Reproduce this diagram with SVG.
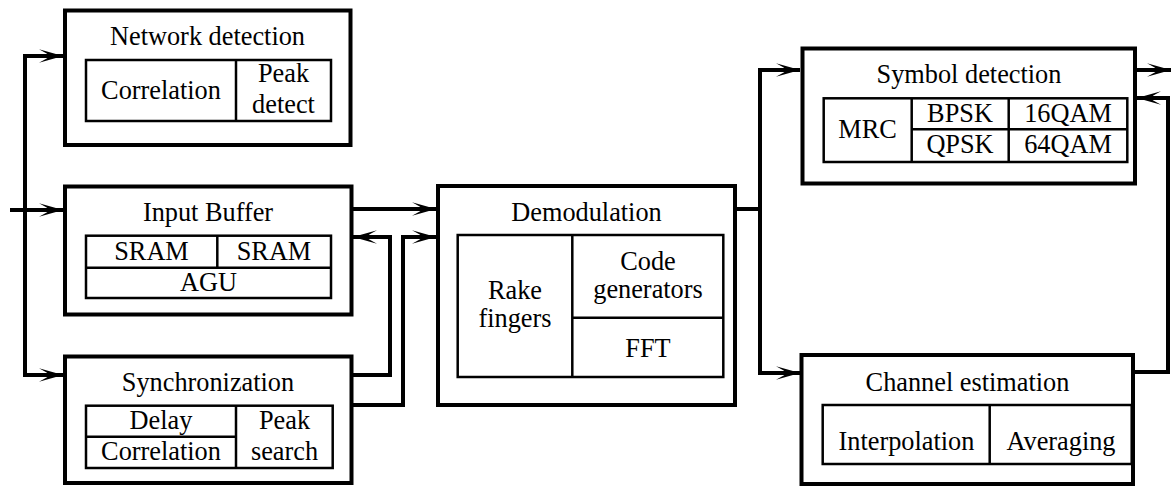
<svg xmlns="http://www.w3.org/2000/svg" width="1171" height="486" viewBox="0 0 1171 486">
<style>
.box{fill:#fff;stroke:#000;stroke-width:4}
.cell{fill:none;stroke:#000;stroke-width:2.5}
.ln{fill:none;stroke:#000;stroke-width:4;stroke-linejoin:miter}
.arr{marker-end:url(#ah)}
text{font-family:"Liberation Serif","Times New Roman",serif;font-size:26.3px;fill:#000;text-anchor:middle}
</style>
<defs>
<marker id="ah" markerUnits="userSpaceOnUse" viewBox="-26 -8 28 16" refX="0" refY="0" markerWidth="28" markerHeight="16" orient="auto">
<path d="M0,0 L-24,-6.8 Q-15,-2 -13,0 Q-15,2 -24,6.8 Z" fill="#000"/>
</marker>
</defs>
<g id="connectors">
<path class="ln arr" d="M10,210 H63"/>
<path class="ln arr" d="M25,210 V56 H63"/>
<path class="ln arr" d="M25,210 V375 H63"/>
<path class="ln arr" d="M351,209 H436"/>
<path class="ln arr" d="M351,375 H390 V237 H353"/>
<path class="ln arr" d="M351,405 H403 V237 H436"/>
<path class="ln arr" d="M735,209 H760 V70 H800"/>
<path class="ln arr" d="M760,209 V373 H800"/>
<path class="ln arr" d="M1135,70 H1171"/>
<path class="ln arr" d="M1133,372 H1168 V98 H1137"/>
</g>
<g id="network-detection">
<rect class="box" x="65" y="10.5" width="285.5" height="134.5"/>
<rect class="cell" x="86" y="60" width="245" height="61"/>
<line class="cell" x1="236" y1="60" x2="236" y2="121"/>
<text x="207.5" y="45">Network detection</text>
<text x="161" y="99">Correlation</text>
<text x="283.5" y="82">Peak</text>
<text x="283.5" y="113">detect</text>
</g>
<g id="input-buffer">
<rect class="box" x="65" y="186.5" width="286.5" height="128"/>
<rect class="cell" x="86" y="235.7" width="245" height="62.3"/>
<line class="cell" x1="86" y1="267.7" x2="331" y2="267.7"/>
<line class="cell" x1="217.3" y1="235.7" x2="217.3" y2="267.7"/>
<text x="208" y="221">Input Buffer</text>
<text x="151.5" y="260">SRAM</text>
<text x="274" y="260">SRAM</text>
<text x="208.5" y="291">AGU</text>
</g>
<g id="synchronization">
<rect class="box" x="65" y="356.5" width="286.5" height="126.5"/>
<rect class="cell" x="86" y="405.7" width="246.7" height="62.3"/>
<line class="cell" x1="86" y1="436.7" x2="236" y2="436.7"/>
<line class="cell" x1="236" y1="405.7" x2="236" y2="468"/>
<text x="208" y="391">Synchronization</text>
<text x="161" y="429">Delay</text>
<text x="161" y="460">Correlation</text>
<text x="284.5" y="429">Peak</text>
<text x="284.5" y="460">search</text>
</g>
<g id="demodulation">
<rect class="box" x="438" y="186" width="297" height="219"/>
<rect class="cell" x="457.7" y="235" width="265.6" height="142"/>
<line class="cell" x1="572.3" y1="235" x2="572.3" y2="377"/>
<line class="cell" x1="572.3" y1="317.7" x2="723.3" y2="317.7"/>
<text x="586.5" y="221">Demodulation</text>
<text x="515" y="299">Rake</text>
<text x="515" y="327">fingers</text>
<text x="648" y="270">Code</text>
<text x="648" y="298">generators</text>
<text x="648" y="357">FFT</text>
</g>
<g id="symbol-detection">
<rect class="box" x="802.5" y="48.5" width="332.5" height="135"/>
<rect class="cell" x="823.7" y="98.3" width="303.6" height="63.7"/>
<line class="cell" x1="911.7" y1="98.3" x2="911.7" y2="162"/>
<line class="cell" x1="1008.7" y1="98.3" x2="1008.7" y2="162"/>
<line class="cell" x1="911.7" y1="129.3" x2="1127.3" y2="129.3"/>
<text x="969" y="83">Symbol detection</text>
<text x="867.5" y="138">MRC</text>
<text x="960" y="122">BPSK</text>
<text x="960" y="153">QPSK</text>
<text x="1068" y="122">16QAM</text>
<text x="1068" y="153">64QAM</text>
</g>
<g id="channel-estimation">
<rect class="box" x="801.5" y="355" width="331.5" height="129"/>
<rect class="cell" x="822.7" y="405" width="309" height="59"/>
<line class="cell" x1="989.7" y1="405" x2="989.7" y2="464"/>
<text x="967.5" y="391">Channel estimation</text>
<text x="906.5" y="450">Interpolation</text>
<text x="1061" y="450">Averaging</text>
</g>
</svg>
